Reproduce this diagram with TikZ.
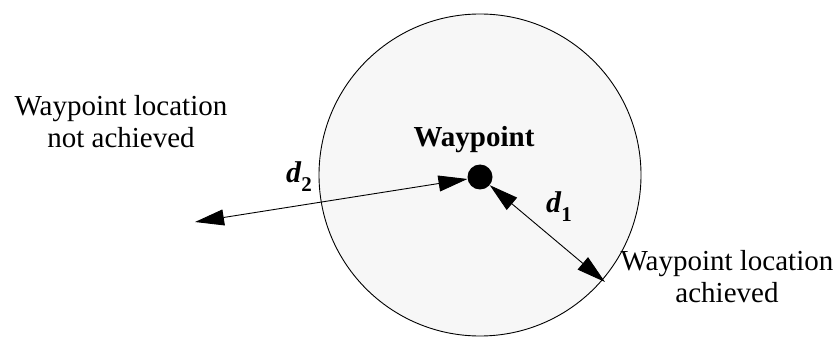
\documentclass[tikz,border=0pt]{standalone}
\usepackage{fontspec}
\setmainfont{Liberation Serif}
\usetikzlibrary{arrows.meta}
\definecolor{zonefill}{RGB}{247,247,247}
\newcommand{\dsym}[1]{\textbf{\textit{d}\raisebox{-0.28em}{\fontsize{21}{22}\selectfont #1}}}
\tikzset{
  zone/.style={circle, draw=black, line width=0.9pt, fill=zonefill, minimum size=322pt, inner sep=0pt},
  wpdot/.style={circle, fill=black, minimum size=25pt, inner sep=0pt},
  dimarrow/.style={line width=0.9pt, {Triangle[length=29pt,width=16pt]}-{Triangle[length=29pt,width=16pt]}},
  lbl/.style={font=\fontsize{29}{32}\selectfont, align=center, inner sep=0pt},
  dlbl/.style={font=\fontsize{30}{30}\selectfont, inner sep=0pt}
}
\begin{document}
\begin{tikzpicture}[x=1pt,y=-1pt]
\useasboundingbox (0,0) rectangle (835,339);
\node[zone] (zone) at (480,175) {};
\node[wpdot] (wp) at (480,177) {};
\coordinate (far) at (195,222);
\coordinate (edge) at (605,282);
\draw[dimarrow] (far) -- (wp);
\draw[dimarrow] (wp) -- (edge);
\node[lbl, font=\fontsize{29}{32}\selectfont\bfseries, anchor=base] (wplabel) at (474,147) {Waypoint};
\node[lbl, anchor=base] (notach) at (121,148) {Waypoint location\\not achieved};
\node[lbl, anchor=base] (ach) at (727,302) {Waypoint location\\achieved};
\node[dlbl, anchor=base] (d2) at (299,183) {\dsym{2}};
\node[dlbl, anchor=base] (d1) at (559,213) {\dsym{1}};
\end{tikzpicture}
\end{document}
